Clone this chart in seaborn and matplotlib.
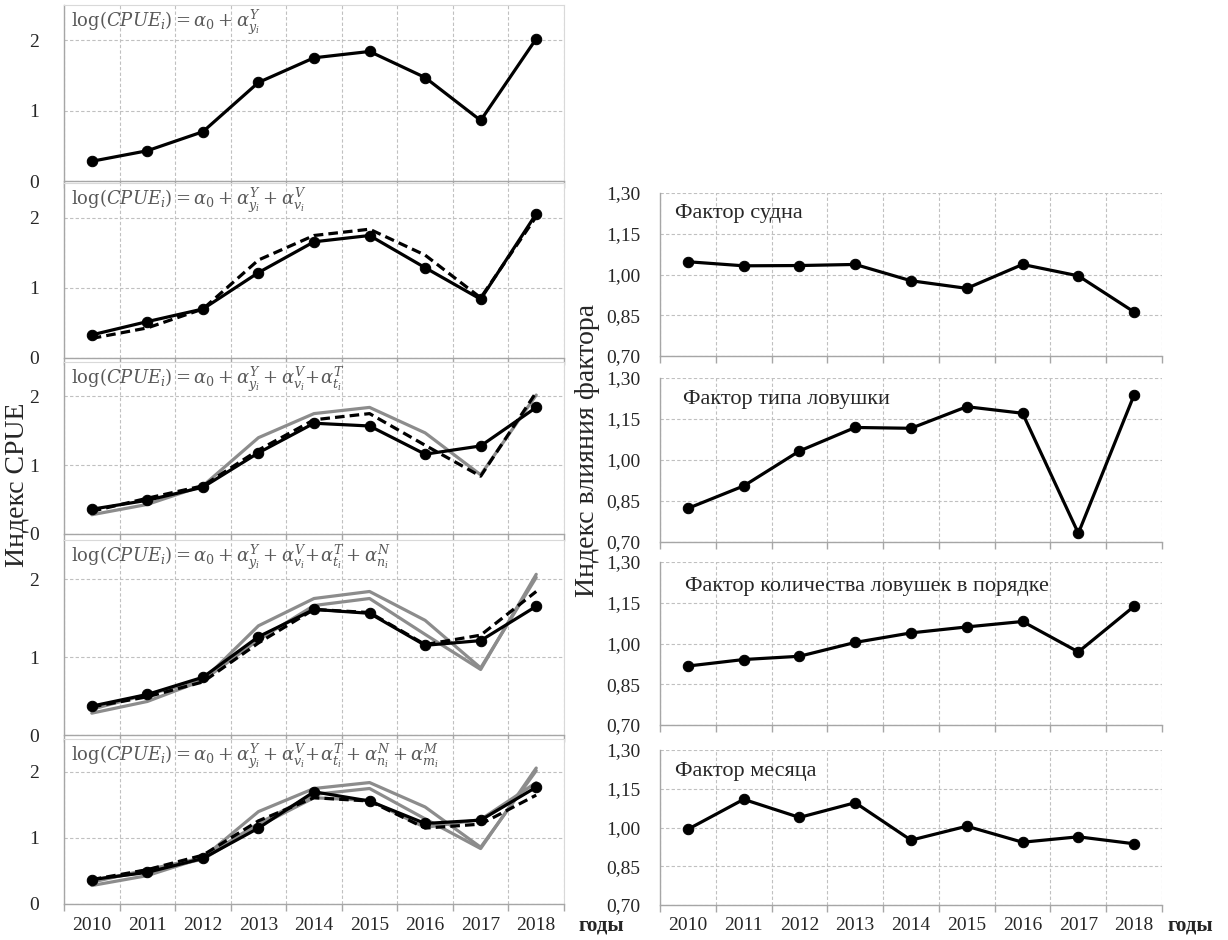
import matplotlib
matplotlib.use('Agg')
import matplotlib.pyplot as plt
import seaborn as sns
from matplotlib.ticker import FuncFormatter

# Years on the x axis
years = [2010, 2011, 2012, 2013, 2014, 2015, 2016, 2017, 2018]

# CPUE index for each model (left column)
cpue_y = [0.28, 0.43, 0.70, 1.40, 1.75, 1.84, 1.47, 0.86, 2.02]
cpue_v = [0.33, 0.52, 0.70, 1.22, 1.66, 1.75, 1.29, 0.84, 2.06]
cpue_t = [0.36, 0.49, 0.68, 1.18, 1.61, 1.57, 1.16, 1.28, 1.84]
cpue_n = [0.37, 0.52, 0.74, 1.26, 1.61, 1.56, 1.15, 1.21, 1.65]
cpue_m = [0.37, 0.48, 0.69, 1.15, 1.70, 1.56, 1.22, 1.27, 1.77]

formulas = [
    r'$\log(CPUE_i) = \alpha_0 + \alpha^{Y}_{y_i}$',
    r'$\log(CPUE_i) = \alpha_0 + \alpha^{Y}_{y_i} + \alpha^{V}_{v_i}$',
    r'$\log(CPUE_i) = \alpha_0 + \alpha^{Y}_{y_i} + \alpha^{V}_{v_i}\!+\!\alpha^{T}_{t_i}$',
    r'$\log(CPUE_i) = \alpha_0 + \alpha^{Y}_{y_i} + \alpha^{V}_{v_i}\!+\!\alpha^{T}_{t_i} + \alpha^{N}_{n_i}$',
    r'$\log(CPUE_i) = \alpha_0 + \alpha^{Y}_{y_i} + \alpha^{V}_{v_i}\!+\!\alpha^{T}_{t_i} + \alpha^{N}_{n_i} + \alpha^{M}_{m_i}$',
]

# Factor influence indices (right column)
vessel = [1.047, 1.032, 1.033, 1.037, 0.977, 0.949, 1.037, 0.995, 0.862]
trap_type = [0.823, 0.905, 1.033, 1.119, 1.116, 1.195, 1.171, 0.732, 1.238]
trap_count = [0.917, 0.941, 0.953, 1.004, 1.039, 1.061, 1.081, 0.969, 1.137]
month = [0.993, 1.109, 1.039, 1.096, 0.951, 1.005, 0.943, 0.964, 0.937]
factor_titles = ['Фактор судна', 'Фактор типа ловушки',
                 'Фактор количества ловушек в порядке', 'Фактор месяца']
right_yticks = [0.70, 0.85, 1.00, 1.15, 1.30]

sns.set_style('white')
plt.rcParams['font.family'] = ['Liberation Serif', 'DejaVu Serif']
plt.rcParams['mathtext.fontset'] = 'dejavuserif'

W, H = 1228, 940
fig = plt.figure(figsize=(W / 100, H / 100), dpi=100)

GRID = '#c0c0c0'
AXIS = '#a6a6a6'
GREY = '#8c8c8c'
LW = 2.3
DASH = (0, (3, 1.6))


def box(x0, top, x1, bottom):
    return [x0 / W, 1 - bottom / H, (x1 - x0) / W, (bottom - top) / H]


def style_axes(ax, ylim, yticks, fmt, show_x, ypad):
    ax.set_xlim(years[0] - 0.5, years[-1] + 0.5)
    ax.set_ylim(*ylim)
    ax.set_yticks(yticks)
    ax.yaxis.set_major_formatter(fmt)
    ax.set_xticks(years)
    ax.set_xticks([years[0] - 0.5] + [y + 0.5 for y in years], minor=True)
    ax.grid(which='major', axis='y', ls=(0, (3, 2)), color=GRID, lw=0.8)
    ax.grid(which='minor', axis='x', ls=(0, (3, 2)), color=GRID, lw=0.8)
    ax.grid(which='major', axis='x', visible=False)
    ax.tick_params(axis='x', which='major', length=0, labelsize=14, pad=9)
    ax.tick_params(axis='x', which='minor', length=5, color=AXIS, width=1,
                   direction='out', bottom=True)
    ax.tick_params(axis='y', length=0, labelsize=14, pad=ypad)
    if not show_x:
        ax.set_xticklabels([])
    ax.set_xlabel('')
    ax.set_ylabel('')
    for s in ['left', 'bottom']:
        ax.spines[s].set_color(AXIS)
        ax.spines[s].set_linewidth(1)


# ---- Left column: CPUE models ----
models = [cpue_y, cpue_v, cpue_t, cpue_n, cpue_m]
left_pos = [(5, 181), (183, 358), (362, 534), (540, 735), (739, 904)]
int_fmt = FuncFormatter(lambda v, p: f'{v:.0f}')

for i, (top, bottom) in enumerate(left_pos):
    ax = fig.add_axes(box(64, top, 564, bottom))
    for j in range(i - 1):
        sns.lineplot(x=years, y=models[j], ax=ax, color=GREY, lw=LW)
    if i > 0:
        sns.lineplot(x=years, y=models[i - 1], ax=ax, color='black', lw=LW,
                     linestyle=DASH)
    sns.lineplot(x=years, y=models[i], ax=ax, color='black', lw=LW,
                 marker='o', markersize=7.5, markeredgecolor='black')
    style_axes(ax, (0, 2.5), [0, 1, 2], int_fmt, i == len(left_pos) - 1, 18)
    for s in ['top', 'right']:
        ax.spines[s].set_color('#d9d9d9')
    ax.text(0.014, 0.985, formulas[i], transform=ax.transAxes, ha='left',
            va='top', fontsize=13, color='#595959')

# ---- Right column: factor influence ----
factors = [vessel, trap_type, trap_count, month]
right_pos = [(193, 356), (378, 542), (562, 725), (750, 905)]
title_xy = [(0.03, 0.875), (0.045, 0.87), (0.05, 0.85), (0.03, 0.86)]
comma_fmt = FuncFormatter(lambda v, p: f'{v:.2f}'.replace('.', ','))

for i, (top, bottom) in enumerate(right_pos):
    ax = fig.add_axes(box(660, top, 1162, bottom))
    sns.lineplot(x=years, y=factors[i], ax=ax, color='black', lw=LW,
                 marker='o', markersize=7.5, markeredgecolor='black')
    style_axes(ax, (0.70, 1.30), right_yticks, comma_fmt,
               i == len(right_pos) - 1, 14)
    ax.spines['top'].set_visible(False)
    ax.spines['right'].set_visible(False)
    ax.text(*title_xy[i], factor_titles[i], transform=ax.transAxes,
            ha='left', va='center', fontsize=16)

# ---- Axis titles ----
fig.text(17 / W, 1 - 485 / H, 'Индекс CPUE', rotation=90, ha='center',
         va='center', fontsize=20)
fig.text(588 / W, 1 - 450 / H, 'Индекс влияния фактора', rotation=90,
         ha='center', va='center', fontsize=20)
fig.text(578 / W, 1 - 926 / H, 'годы', ha='left', va='center', fontsize=15,
         fontweight='bold')
fig.text(1167 / W, 1 - 926 / H, 'годы', ha='left', va='center', fontsize=15,
         fontweight='bold')

fig.savefig('out.png', dpi=100)
